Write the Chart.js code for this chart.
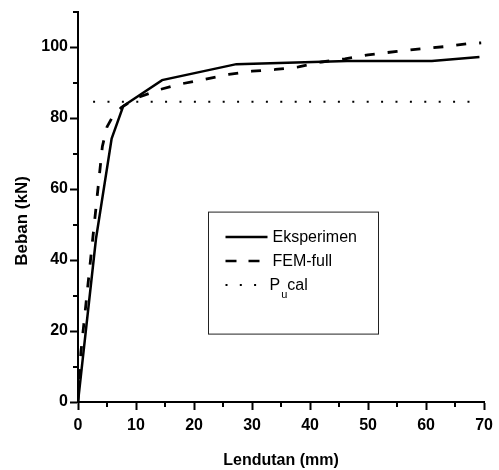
<!DOCTYPE html>
<html lang="id">
<head>
    <meta charset="utf-8">
    <title>Beban - Lendutan</title>
    <script src="https://cdn.jsdelivr.net/npm/chart.js@4"></script>
    <style>
        html, body {
            margin: 0;
            padding: 0;
            background: #fff;
        }

        canvas {
            display: block;
        }
    </style>
</head>
<body>
    <canvas id="chart" width="499" height="470"></canvas>

    <script>
        // nilai
        const eksX = [0, 3.1, 5.8, 7.8, 14.5, 27.3, 46.4, 61.0, 69.2];
        const eksY = [0, 46, 74.2, 83.4, 90.7, 95.2, 96.1, 96.1, 97.2];

        const femX = [0, 0.5, 4.2, 5.0, 6.0, 7.5, 10, 14, 18, 22, 26, 30, 34, 38, 42, 46, 50, 55, 59, 63, 67, 69.5];
        const femY = [0, 14, 72, 77.5, 80.5, 83, 85.6, 88, 89.7, 91, 92.3, 93.2, 93.7, 94.4, 95.8, 96.7, 97.8, 98.8, 99.5, 100.1, 100.9, 101.2];

        const puX = [2.6, 69.1];
        const puY = [84.6, 84.6];

        const seriesLabels = ['Eksperimen', 'FEM-full', 'Pu cal'];

        const xTicks = [0, 10, 20, 30, 40, 50, 60, 70];
        const xMinor = [5, 15, 25, 35, 45, 55, 65];
        const yTicks = [0, 20, 40, 60, 80, 100];
        const yMinor = [10, 30, 50, 70, 90, 110];

        const FONT = '"Liberation Sans", Arial, Helvetica, sans-serif';

        const toPoints = (xs, ys) => xs.map((x, i) => ({ x: x, y: ys[i] }));

        // tick kecil (minor) di luar sumbu
        const minorTicks = {
            id: 'minorTicks',
            afterDraw(chart) {
                const { ctx, scales } = chart;
                const sx = scales.x, sy = scales.y;
                ctx.save();
                ctx.strokeStyle = '#000';
                ctx.lineWidth = 2;
                ctx.beginPath();
                xMinor.forEach(v => {
                    const px = Math.round(sx.getPixelForValue(v));
                    ctx.moveTo(px, sx.top);
                    ctx.lineTo(px, sx.top + 5);
                });
                yMinor.forEach(v => {
                    const py = Math.round(sy.getPixelForValue(v));
                    ctx.moveTo(sy.right, py);
                    ctx.lineTo(sy.right - 5, py);
                });
                ctx.stroke();
                ctx.restore();
            }
        };

        // legenda dalam kotak, dengan subskrip untuk P_u
        const boxLegend = {
            id: 'boxLegend',
            afterDraw(chart) {
                const ctx = chart.ctx;
                const area = chart.chartArea;
                const left = area.left + 130.5;
                const top = area.top + 200.5;
                const sampleDash = [[], [11, 12], [2, 12.3]];
                const sampleEnd = [42, 42, 33];

                ctx.save();
                ctx.strokeStyle = '#222';
                ctx.lineWidth = 1;
                ctx.setLineDash([]);
                ctx.strokeRect(left, top, 170, 122);

                chart.data.datasets.forEach((ds, i) => {
                    const yy = Math.round(top + 25 + i * 24);
                    const x0 = left + 17;
                    ctx.strokeStyle = '#000';
                    ctx.lineWidth = i === 2 ? 2 : 2.5;
                    ctx.setLineDash(sampleDash[i]);
                    ctx.beginPath();
                    ctx.moveTo(x0, yy);
                    ctx.lineTo(x0 + sampleEnd[i], yy);
                    ctx.stroke();

                    ctx.fillStyle = '#000';
                    ctx.textBaseline = 'middle';
                    ctx.textAlign = 'left';
                    ctx.font = '16px ' + FONT;
                    let tx = x0 + 47;
                    if (i === 2) {
                        tx -= 3;
                        ctx.fillText('P', tx, yy + 1);
                        tx += ctx.measureText('P').width + 1;
                        ctx.font = '11px ' + FONT;
                        ctx.fillText('u', tx, yy + 10);
                        tx += ctx.measureText('u').width;
                        ctx.font = '16px ' + FONT;
                        ctx.fillText('cal', tx, yy + 1);
                    } else {
                        ctx.fillText(ds.label, tx, yy + 1);
                    }
                });
                ctx.restore();
            }
        };

        const ctx = document.getElementById('chart').getContext('2d');
        new Chart(ctx, {
            type: 'line',
            data: {
                datasets: [{
                    label: seriesLabels[0],
                    data: toPoints(eksX, eksY),
                    borderColor: '#000',
                    borderWidth: 2.5
                }, {
                    label: seriesLabels[1],
                    data: toPoints(femX, femY),
                    borderColor: '#000',
                    borderWidth: 2.8,
                    borderDash: [10, 13]
                }, {
                    label: seriesLabels[2],
                    data: toPoints(puX, puY),
                    borderColor: '#000',
                    borderWidth: 2,
                    borderDash: [2, 12.4]
                }]
            },
            options: {
                responsive: false,
                animation: false,
                layout: { padding: { top: 11, right: 11, left: 0, bottom: 0 } },
                elements: {
                    point: { radius: 0 },
                    line: { tension: 0, fill: false, borderCapStyle: 'butt' }
                },
                plugins: {
                    legend: { display: false },
                    tooltip: { enabled: false }
                },
                scales: {
                    x: {
                        type: 'linear',
                        min: 0,
                        max: 70,
                        afterBuildTicks: s => { s.ticks = xTicks.map(v => ({ value: v })); },
                        afterFit: s => { s.height = 68; },
                        grid: { drawOnChartArea: false, drawTicks: true, tickLength: 8, tickWidth: 2, tickColor: '#000' },
                        border: { display: true, color: '#000', width: 2 },
                        ticks: {
                            color: '#000',
                            padding: 6,
                            maxRotation: 0,
                            font: { family: FONT, size: 16, weight: 'bold' }
                        },
                        title: {
                            display: true,
                            text: 'Lendutan (mm)',
                            color: '#000',
                            padding: { top: 0, bottom: 0 },
                            font: { family: FONT, size: 16, weight: 'bold' }
                        }
                    },
                    y: {
                        type: 'linear',
                        min: 0,
                        max: 110,
                        afterBuildTicks: s => { s.ticks = yTicks.map(v => ({ value: v })); },
                        afterFit: s => { s.width = 78; },
                        grid: { drawOnChartArea: false, drawTicks: true, tickLength: 8, tickWidth: 2, tickColor: '#000' },
                        border: { display: true, color: '#000', width: 2 },
                        ticks: {
                            color: '#000',
                            padding: 2,
                            font: { family: FONT, size: 16, weight: 'bold' }
                        },
                        title: {
                            display: true,
                            text: 'Beban (kN)      ',
                            color: '#000',
                            padding: { top: 12, bottom: 0 },
                            font: { family: FONT, size: 17, weight: 'bold' }
                        }
                    }
                }
            },
            plugins: [minorTicks, boxLegend]
        });
    </script>
</body>
</html>
